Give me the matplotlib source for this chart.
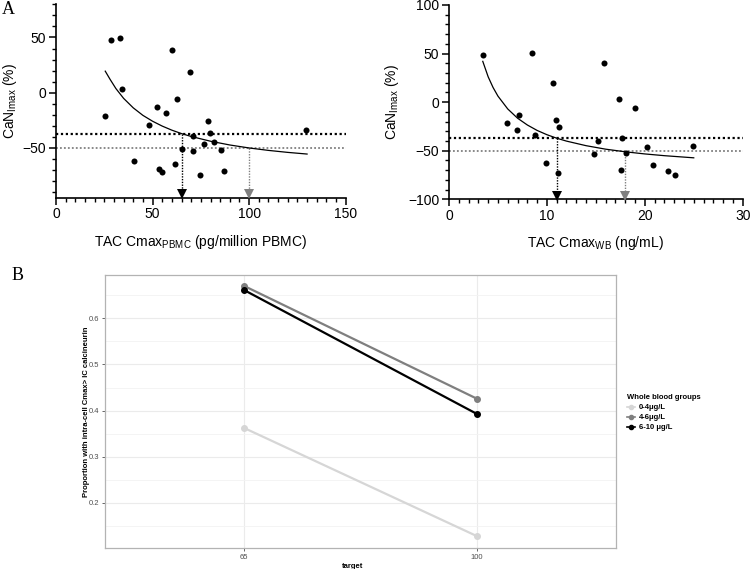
import matplotlib
matplotlib.use("Agg")
import matplotlib.pyplot as plt
from matplotlib.ticker import MultipleLocator, FixedLocator
from matplotlib.lines import Line2D

plt.rcParams['font.family'] = ['Liberation Sans', 'DejaVu Sans']
plt.rcParams['mathtext.fontset'] = 'custom'
plt.rcParams['mathtext.rm'] = 'Liberation Sans'
plt.rcParams['mathtext.it'] = 'Liberation Sans:italic'

# ---------------- Data: panel A left (PBMC) ----------------
pbmc_x = [25.5, 28.7, 33.1, 34.0, 40.2, 48.0, 52.1, 53.3, 55.1, 57.1, 60.1, 61.5, 62.7,
          65.3, 69.2, 71.1, 71.1, 74.7, 76.8, 78.7, 79.8, 81.8, 85.3, 87.2, 129.5]
pbmc_y = [-21.3, 48.1, 49.9, 3.3, -62.1, -29.1, -13.2, -69.4, -71.7, -18.3, 39.1, -64.5, -6.0,
          -51.3, 18.9, -39.6, -53.1, -74.1, -46.2, -25.5, -36.9, -44.4, -51.9, -70.8, -33.6]
pbmc_fit_x = [25.5, 28, 31, 35, 40, 45, 50, 55, 60, 65, 70, 80, 90, 100, 110, 120, 130]
pbmc_fit_y = [19.5, 12.1, 3.8, -5.1, -13.7, -20.5, -25.8, -30.2, -33.9, -37.0, -39.6,
              -43.9, -47.3, -50.0, -52.2, -54.0, -55.5]
pbmc_targets = [65, 100]

# ---------------- Data: panel A right (whole blood) ----------------
wb_x = [3.44, 5.89, 6.91, 7.15, 8.48, 8.82, 9.91, 10.66, 10.93, 11.13, 11.27, 14.84,
        15.22, 15.83, 17.40, 17.57, 17.67, 18.11, 19.03, 20.22, 20.84, 22.37, 23.09, 24.89]
wb_y = [49.0, -21.3, -28.8, -13.4, 50.7, -34.0, -62.4, 19.5, -18.5, -72.7, -25.7, -53.5,
        -39.8, 39.8, 3.4, -70.3, -36.7, -52.1, -5.8, -46.6, -65.2, -71.0, -74.8, -44.9]
wb_fit_x = [3.45, 4, 4.5, 5, 6, 7, 8, 9, 10, 11, 12, 14, 16, 18, 20, 22, 25]
wb_fit_y = [42.0, 26.1, 15.1, 6.2, -7.0, -16.5, -23.5, -29.1, -33.5, -37.1, -40.1,
            -44.8, -48.4, -51.1, -53.3, -55.1, -57.3]
wb_targets = [11, 18]

thresholds = [-37, -50]

# ---------------- Data: panel B ----------------
b_categories = ['65', '100']
b_groups = ['0-4\u03bcg/L', '4-6\u03bcg/L', '6-10 \u03bcg/L']
b_values = {
    '0-4\u03bcg/L': [0.362, 0.128],
    '4-6\u03bcg/L': [0.670, 0.426],
    '6-10 \u03bcg/L': [0.661, 0.393],
}
b_colors = ['#d6d6d6', '#7f7f7f', '#000000']

fig = plt.figure(figsize=(7.5, 5.69), dpi=100)
W, H = 750, 569

def ax_px(l, t, r, b):
    return fig.add_axes([l / W, 1 - b / H, (r - l) / W, (b - t) / H])

thr_colors = ['black', '#808080']


def style_prism(ax, xmajor, xminor, ymajor_locs, yminor):
    for s in ['top', 'right']:
        ax.spines[s].set_visible(False)
    for s in ['left', 'bottom']:
        ax.spines[s].set_linewidth(1.2)
    ax.xaxis.set_major_locator(MultipleLocator(xmajor))
    ax.xaxis.set_minor_locator(MultipleLocator(xminor))
    ax.yaxis.set_major_locator(FixedLocator(ymajor_locs))
    ax.yaxis.set_minor_locator(MultipleLocator(yminor))
    ax.tick_params(which='major', length=5, width=1.1, labelsize=10, direction='out', pad=2)
    ax.tick_params(which='minor', length=3, width=1.0, direction='out')


def draw_panel(ax, xs, ys, fx, fy, targets, ymin):
    ax.plot(fx, fy, color='black', lw=0.9, zorder=3)
    ax.scatter(xs, ys, s=19, color='black', zorder=4, linewidths=0)
    for thr, col in zip(thresholds, thr_colors):
        ax.axhline(thr, color=col, lw=1.6 if col == 'black' else 1.3,
                   linestyle=(0, (1, 1.2)), zorder=2)
    for tx, thr, col in zip(targets, thresholds, thr_colors):
        ax.plot([tx, tx], [thr, ymin], color=col, lw=1.0, linestyle=(0, (1, 1)), zorder=2)
        ax.plot([tx], [ymin], marker='v', color=col, markersize=6.5, clip_on=False,
                zorder=5, markeredgewidth=0)


# left panel
ax1 = ax_px(56, 4.3, 345.7, 197.7)
ax1.set_xlim(0, 150)
ax1.set_ylim(-95, 80)
draw_panel(ax1, pbmc_x, pbmc_y, pbmc_fit_x, pbmc_fit_y, pbmc_targets, -95 + 3.2)
style_prism(ax1, 50, 5, [-50, 0, 50], 10)
ax1.set_xlabel('TAC Cmax$_{\\mathregular{PBMC}}$ (pg/million PBMC)', fontsize=10)
ax1.xaxis.set_label_coords(0.5, -0.185)
ax1.set_ylabel('CaN$_{\\mathregular{Imax}}$ (%)', fontsize=10)
ax1.yaxis.set_label_coords(-0.128, 0.5)

# right panel
ax2 = ax_px(449, 5, 742.7, 199.3)
ax2.set_xlim(0, 30)
ax2.set_ylim(-100, 100)
draw_panel(ax2, wb_x, wb_y, wb_fit_x, wb_fit_y, wb_targets, -100 + 3.5)
style_prism(ax2, 10, 1, [-100, -50, 0, 50, 100], 10)
ax2.set_xlabel('TAC Cmax$_{\\mathregular{WB}}$ (ng/mL)', fontsize=10)
ax2.xaxis.set_label_coords(0.5, -0.18)
ax2.set_ylabel('CaN$_{\\mathregular{Imax}}$ (%)', fontsize=10)
ax2.yaxis.set_label_coords(-0.165, 0.5)

fig.text(2 / W, 1 - 9 / H, 'A', family='Liberation Serif', fontsize=13, va='center', ha='left')
fig.text(12 / W, 1 - 275 / H, 'B', family='Liberation Serif', fontsize=13, va='center', ha='left')

# ---------------- Panel B ----------------
ax3 = ax_px(105, 274.7, 616, 548)
xpos = list(range(1, len(b_categories) + 1))
for g, c in zip(b_groups, b_colors):
    ax3.plot(xpos, b_values[g], color=c, lw=1.6, marker='o', markersize=4, zorder=3, label=g)
ax3.set_xlim(0.4, 2.6)
ax3.set_ylim(0.102, 0.6946)
ax3.set_xticks(xpos)
ax3.set_xticklabels(b_categories)
ax3.yaxis.set_major_locator(FixedLocator([0.2, 0.3, 0.4, 0.5, 0.6]))
ax3.yaxis.set_minor_locator(FixedLocator([0.15, 0.25, 0.35, 0.45, 0.55, 0.65]))
ax3.grid(which='major', color='#ebebeb', lw=0.8)
ax3.grid(which='minor', axis='y', color='#f3f3f3', lw=0.6)
ax3.set_axisbelow(True)
for s in ax3.spines.values():
    s.set_color('#b3b3b3')
    s.set_linewidth(0.9)
ax3.tick_params(which='major', length=2, width=0.6, color='#4d4d4d', labelsize=5.5,
                labelcolor='#4d4d4d', pad=2)
ax3.tick_params(which='minor', length=0)
ax3.set_xlabel('target', fontsize=5.5, fontweight='bold')
ax3.xaxis.set_label_coords(0.485, -0.055)
ax3.set_ylabel('Proportion with intra-cell Cmax> IC calcineurin', fontsize=5.5, fontweight='bold')
ax3.yaxis.set_label_coords(-0.03, 0.5)

leg_handles = [Line2D([0], [0], color=c, lw=1.2, marker='o', markersize=3) for c in b_colors]
leg = fig.legend(leg_handles, b_groups, title='Whole blood groups',
                 loc='upper left', bbox_to_anchor=(622 / W, 1 - 389 / H),
                 frameon=False, fontsize=5.5, title_fontproperties={'weight': 'bold', 'size': 5.5},
                 handlelength=1.0, handletextpad=0.5, labelspacing=0.35, alignment='left',
                 borderpad=0.2)
for t in leg.get_texts():
    t.set_fontweight('bold')

fig.savefig('out.png', dpi=100)
